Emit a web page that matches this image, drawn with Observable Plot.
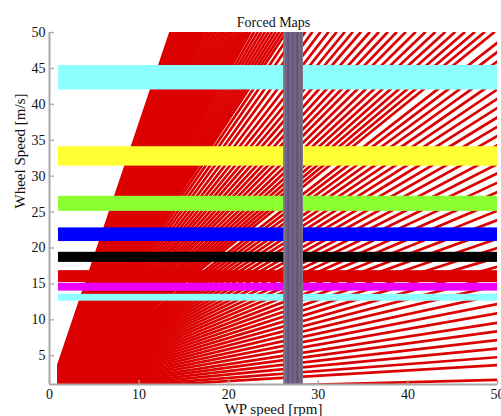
<!DOCTYPE html>
<html><head><meta charset="utf-8">
<script src="https://cdn.jsdelivr.net/npm/d3@7"></script>
<script src="https://cdn.jsdelivr.net/npm/@observablehq/plot@0.6"></script>
<style>html,body{margin:0;padding:0;background:#fff}svg{display:block}</style>
</head><body><div id="chart"></div>
<script>
const title = "Forced Maps";
const xLabel = "WP speed [rpm]";
const yLabel = "Wheel Speed [m/s]";
const xTicks = [0, 10, 20, 30, 40, 50];
const yTicks = [5, 10, 15, 20, 25, 30, 35, 40, 45, 50];

// Red operating lines through the origin, described by where they leave the frame:
// on the top edge (WP speed at wheel speed 50) ...
const topEndX = [13.5, 13.7, 13.9, 14.1, 14.3, 14.5, 14.7, 14.9, 15.1, 15.3, 15.5, 15.7, 15.9, 16.1, 16.3, 16.5, 16.7, 16.9, 17.1, 17.3,
  17.6, 17.9, 18.2, 18.5, 18.8, 19.1, 19.4, 19.7, 20.0, 20.3, 20.6, 20.9, 21.2, 21.5, 21.8, 22.1, 22.4,
  22.8, 23.2, 23.6, 24.0, 24.4, 24.8, 25.2, 25.6, 26.0, 26.4, 27.0, 27.7, 28.5, 29.3,
  30.2, 31.1, 32.0, 32.9, 33.8, 34.7, 35.7, 36.7, 37.7, 38.7, 39.7, 40.8, 41.9, 43.0, 44.1, 45.2, 46.3, 47.4, 48.5, 49.6];
// ... or on the right edge (wheel speed at WP speed 50)
const rightEndY = [48.6, 47.3, 46.0, 44.7, 43.4, 42.1, 40.8, 39.5, 38.2, 36.9, 35.6, 34.3, 33.0, 31.7, 30.4, 29.1,
  27.8, 26.5, 25.2, 23.9, 22.6, 21.3, 20.0, 18.7, 17.4, 16.1, 14.8, 13.5, 12.2, 10.9, 9.6, 8.4, 7.2, 6.0, 4.8, 3.7, 1.65];

// Horizontal forced bands (wheel speed ranges)
const bandLow  = [42.0, 31.4, 25.1, 20.9, 18.0, 15.2, 14.0, 12.6];
const bandHigh = [45.4, 34.1, 27.2, 22.8, 19.4, 16.85, 15.1, 13.55];
const bandColors = ["#8cffff", "#ffff33", "#8cff33", "#0000ff", "#000000", "#dc0000", "#ee00ff", "#8cffff"];
const bandXStart = 1, bandXEnd = 50;

// Vertical forced band (WP speed range)
const vBandLow = 26.15, vBandHigh = 28.27;
const vStripeX = [26.2, 26.4, 26.65, 26.9, 27.15, 27.4, 27.65, 27.9, 28.1, 28.22];
const vStripeColors = ["#7b7f86", "#7a6690", "#62557a", "#7d6b96", "#665878", "#7a6892", "#605274", "#7b6a94", "#6a5c7c", "#7b8088"];

const red = "#dc0000";
const serif = "'Liberation Serif', 'Times New Roman', serif";
const lineRows = [];
topEndX.forEach((xt, i) => { const k = 50 / xt; lineRows.push({id: "t" + i, x: bandXStart, y: k * bandXStart}, {id: "t" + i, x: xt, y: 50}); });
rightEndY.forEach((yr, i) => { lineRows.push({id: "r" + i, x: 0, y: 0}, {id: "r" + i, x: 50, y: yr}); });

const bands = bandLow.map((lo, i) => ({lo, hi: bandHigh[i], c: bandColors[i]}));

const axisGray = "#a9a9a9";
const chart = Plot.plot({
  width: 501, height: 416,
  marginLeft: 49, marginRight: 4, marginTop: 32, marginBottom: 32,
  style: {fontFamily: serif, fontSize: "13px", color: "#111", background: "#fff"},
  x: {domain: [0, 50], ticks: xTicks},
  y: {domain: [1, 50], ticks: yTicks},
  marks: [
    Plot.line(lineRows, {x: "x", y: "y", z: "id", stroke: red, strokeWidth: 2.7, clip: true}),
    Plot.rect(bands, {x1: () => bandXStart, x2: () => bandXEnd, y1: "lo", y2: "hi", fill: "c"}),
    Plot.rect([{lo: vBandLow, hi: vBandHigh}], {x1: "lo", x2: "hi", y1: () => 1, y2: () => 50, fill: "#6c5b7e"}),
    Plot.ruleX(vStripeX, {x: d => d, y1: () => 1, y2: () => 50, stroke: (d, i) => vStripeColors[i], strokeWidth: 1.3}),
    Plot.ruleX([0], {y1: () => 1, y2: () => 50, stroke: axisGray, strokeWidth: 2}),
    Plot.ruleY([1], {x1: () => 0, x2: () => 50, stroke: axisGray, strokeWidth: 2}),
    Plot.vector(yTicks, {x: () => 0, y: d => d, rotate: 90, length: 4, anchor: "start", stroke: axisGray, strokeWidth: 1}),
    Plot.vector(xTicks, {x: d => d, y: () => 1, rotate: 0, length: 4, anchor: "start", stroke: axisGray, strokeWidth: 1}),
    Plot.axisX(xTicks, {tickSize: 0, tickPadding: 5, fontSize: 14, fontFamily: serif, label: null}),
    Plot.axisY(yTicks, {tickSize: 0, tickPadding: 4, fontSize: 14, fontFamily: serif, label: null}),
    Plot.text([title], {frameAnchor: "top", dy: -15, fontSize: 14, fontFamily: serif, fill: "#111"}),
    Plot.text([xLabel], {frameAnchor: "bottom", dy: 19, lineAnchor: "top", fontSize: 15, fontFamily: serif, fill: "#111"}),
    Plot.text([yLabel], {frameAnchor: "left", dx: -29, rotate: -90, fontSize: 15, fontFamily: serif, fill: "#111"})
  ]
});
document.getElementById("chart").appendChild(chart);
</script>
</body></html>
